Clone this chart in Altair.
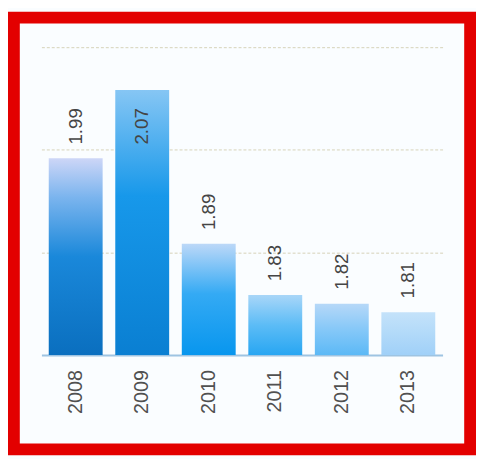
import altair as alt
import pandas as pd

years = ["2008", "2009", "2010", "2011", "2012", "2013"]
values = [1.99, 2.07, 1.89, 1.83, 1.82, 1.81]
grid_values = [1.88, 2.00, 2.12]
y_min, y_max = 1.76, 2.12
label_cap = 1.99

# gradient stops per bar (bottom -> top), style only
bar_stops = [
    [("#0a6fbf", 0.0), ("#1a88da", 0.5), ("#7ab4ee", 0.8), ("#cdd6f7", 1.0)],
    [("#0a7fd2", 0.0), ("#1798ea", 0.6), ("#86c6f4", 1.0)],
    [("#0896ee", 0.0), ("#34aaf4", 0.55), ("#bcd8f8", 1.0)],
    [("#28a6f2", 0.0), ("#5cbcf6", 0.5), ("#a8d6f8", 1.0)],
    [("#5cb9f6", 0.0), ("#86c8f8", 0.5), ("#b6d8f8", 1.0)],
    [("#a0d0f8", 0.0), ("#b2daf9", 0.5), ("#c4e2fa", 1.0)],
]

df = pd.DataFrame({"year": years, "value": values})

x_enc = alt.X(
    "year:N",
    sort=years,
    scale=alt.Scale(paddingInner=0.19, paddingOuter=0.11),
    axis=alt.Axis(
        title=None, labelAngle=270, labelFontSize=20, labelColor="#505050",
        labelFont="Liberation Sans", labelPadding=15, ticks=False,
        domainColor="#9ec4e2", domainWidth=2, grid=False,
    ),
)
y_scale = alt.Scale(domain=[y_min, y_max], nice=False, zero=False)

layers = []
for i, yr in enumerate(years):
    grad = alt.Gradient(
        gradient="linear",
        stops=[alt.GradientStop(color=c, offset=o) for c, o in bar_stops[i]],
        x1=0, x2=0, y1=1, y2=0,
    )
    layer = (
        alt.Chart(df)
        .transform_filter(alt.datum.year == yr)
        .mark_bar(color=grad)
        .encode(
            x=x_enc,
            y=alt.Y(
                "value:Q", scale=y_scale,
                axis=alt.Axis(values=grid_values, grid=True, labels=False, ticks=False,
                              domain=False, title=None, gridColor="#d6d2b8",
                              gridDash=[3, 2], gridWidth=1),
            ),
            y2=alt.datum(y_min),
        )
    )
    layers.append(layer)

text = (
    alt.Chart(df)
    .transform_calculate(pos=f"min(datum.value, {label_cap})")
    .mark_text(angle=270, align="left", baseline="middle", dx=14, fontSize=19,
               font="Liberation Sans", color="#454545")
    .encode(x=x_enc, y=alt.Y("pos:Q", scale=y_scale), text=alt.Text("value:Q", format=".2f"))
)

border = (
    alt.Chart(pd.DataFrame({"k": [0]}))
    .mark_rect(fill="transparent", stroke="#e30000", strokeWidth=12)
    .encode(x=alt.value(-28), x2=alt.value(436), y=alt.value(-30), y2=alt.value(409))
)

chart = (
    alt.layer(*layers, text, border)
    .properties(
        width=408, height=313,
        padding={"left": 34, "top": 36, "right": 34, "bottom": 102},
        autosize=alt.AutoSizeParams(type="none"),
        background="#fafdff",
    )
    .configure_view(stroke=None)
)

chart.save("out.html", embed_options={"renderer": "svg", "actions": False})
